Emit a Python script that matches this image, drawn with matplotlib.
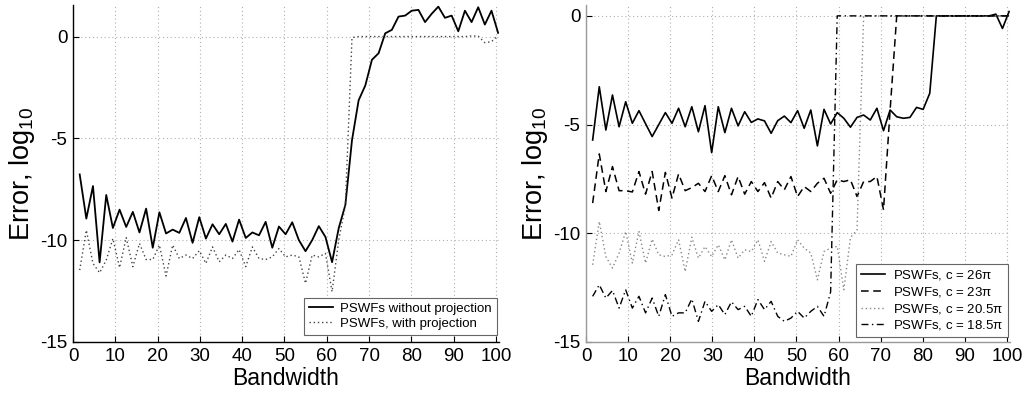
import matplotlib
matplotlib.use("Agg")
import matplotlib.pyplot as plt

plt.rcParams['font.family'] = ['Liberation Sans', 'DejaVu Sans']
plt.rcParams['mathtext.default'] = 'regular'
plt.rcParams['axes.unicode_minus'] = False

# Bandwidth values (k * pi / 2, k = 1..64)
bandwidth = [1.57, 3.14, 4.71, 6.28, 7.85, 9.42, 11.00, 12.57, 14.14, 15.71,
             17.28, 18.85, 20.42, 21.99, 23.56, 25.13, 26.70, 28.27, 29.85, 31.42,
             32.99, 34.56, 36.13, 37.70, 39.27, 40.84, 42.41, 43.98, 45.55, 47.12,
             48.69, 50.27, 51.84, 53.41, 54.98, 56.55, 58.12, 59.69, 61.26, 62.83,
             64.40, 65.97, 67.54, 69.12, 70.69, 72.26, 73.83, 75.40, 76.97, 78.54,
             80.11, 81.68, 83.25, 84.82, 86.39, 87.96, 89.54, 91.11, 92.68, 94.25,
             95.82, 97.39, 98.96, 100.53]

# Left panel
without_projection = [-6.77, -8.94, -7.34, -11.09, -7.78, -9.40, -8.50, -9.35, -8.61, -9.62,
                      -8.45, -10.37, -8.63, -9.67, -9.48, -9.64, -8.91, -10.13, -8.87, -9.92,
                      -9.22, -9.71, -9.20, -10.07, -8.99, -9.89, -9.62, -9.76, -9.10, -10.37,
                      -9.33, -9.71, -9.12, -10.00, -10.54, -10.00, -9.31, -9.84, -11.08, -9.41,
                      -8.27, -5.09, -3.13, -2.40, -1.14, -0.82, 0.16, 0.33, 0.98, 1.03,
                      1.27, 1.31, 0.71, 1.12, 1.47, 0.92, 1.03, 0.26, 1.27, 0.71,
                      1.44, 0.59, 1.27, 0.18]
with_projection = [-11.47, -9.51, -11.14, -11.60, -10.98, -9.92, -11.35, -9.87, -11.30, -10.16,
                   -10.95, -10.95, -10.24, -11.76, -10.24, -10.90, -10.73, -10.90, -10.52, -11.14,
                   -10.33, -11.06, -10.73, -10.90, -10.46, -11.30, -10.33, -10.90, -10.95, -10.82,
                   -10.41, -10.82, -10.73, -10.82, -12.12, -10.73, -10.82, -10.65, -12.53, -10.00,
                   -8.30, -0.05, 0, 0, 0, 0, 0, 0, 0, 0,
                   0, 0, 0, 0, 0, 0, 0, 0, 0, 0.03,
                   0.02, -0.30, -0.25, 0.05]

# Right panel
c26 = [-5.71, -3.26, -5.25, -3.64, -5.10, -3.95, -4.94, -4.36, -4.96, -5.55,
       -5.00, -4.45, -4.94, -4.25, -5.10, -4.18, -5.33, -4.13, -6.29, -4.18,
       -5.37, -4.25, -5.06, -4.41, -4.90, -4.74, -4.83, -5.40, -4.82, -4.61,
       -4.91, -4.36, -5.17, -4.33, -5.98, -4.30, -4.97, -4.45, -4.71, -5.12,
       -4.67, -4.56, -4.79, -4.25, -5.28, -4.33, -4.64, -4.71, -4.67, -4.21,
       -4.30, -3.56, 0, 0, 0, 0, 0, 0, 0, 0,
       0, 0.08, -0.58, 0.20]
c23 = [-8.61, -6.35, -8.08, -6.93, -8.04, -8.04, -8.10, -7.16, -8.20, -7.16,
       -8.95, -7.20, -8.38, -7.27, -8.04, -7.90, -7.70, -8.08, -7.35, -8.08,
       -7.35, -8.23, -7.39, -8.20, -7.62, -8.08, -7.67, -8.38, -7.62, -8.00,
       -7.39, -8.31, -7.85, -8.08, -7.70, -7.47, -8.16, -7.54, -7.62, -7.54,
       -8.31, -7.62, -7.62, -7.39, -8.92, -4.33, 0, 0, 0, 0,
       0, 0, 0, 0, 0, 0, 0, 0, 0, 0,
       0, 0, 0, 0]
c205 = [-11.45, -9.46, -11.07, -11.60, -10.91, -9.92, -11.37, -9.92, -11.37, -10.27,
        -10.99, -11.07, -10.99, -10.30, -11.76, -10.18, -11.14, -10.61, -11.07, -10.53,
        -11.22, -10.30, -11.14, -10.76, -10.84, -10.30, -11.29, -10.38, -10.91, -10.99,
        -11.06, -10.30, -10.68, -10.91, -12.14, -10.84, -10.68, -10.60, -12.60, -10.20,
        -9.84, 0, 0, 0, 0, 0, 0, 0, 0, 0,
        0, 0, 0, 0, 0, 0, 0, 0, 0, 0,
        0, 0, 0, 0]
c185 = [-12.90, -12.37, -12.98, -12.63, -13.44, -12.60, -13.44, -12.90, -13.66, -12.98,
        -13.82, -12.82, -13.82, -13.66, -13.66, -13.02, -14.05, -13.13, -13.59, -13.28,
        -13.74, -13.15, -13.51, -13.36, -13.82, -13.05, -13.51, -13.13, -13.82, -14.05,
        -13.90, -13.59, -13.90, -13.59, -13.36, -13.82, -12.70, 0, 0, 0,
        0, 0, 0, 0, 0, 0, 0, 0, 0, 0,
        0, 0, 0, 0, 0, 0, 0, 0, 0, 0,
        0, 0, 0, 0]

xticks = [0, 10, 20, 30, 40, 50, 60, 70, 80, 90, 100]
yticks = [-15, -10, -5, 0]

fig = plt.figure(figsize=(10.26, 4.0), dpi=100)
axL = fig.add_axes([0.0712, 0.145, 0.4150, 0.8425])
axR = fig.add_axes([0.5712, 0.145, 0.4130, 0.8425])

def style(ax, spine_color, ytop):
    ax.set_xlim(0, 100.7)
    ax.set_ylim(-15, ytop)
    ax.set_xticks(xticks)
    ax.set_yticks(yticks)
    for s in ('top', 'right'):
        ax.spines[s].set_visible(False)
    for s in ('left', 'bottom'):
        ax.spines[s].set_color(spine_color)
        ax.spines[s].set_linewidth(1.0)
    ax.tick_params(direction='in', length=4, width=0.8, labelsize=13.5, pad=4)
    ax.grid(True, color='#b0b0b0', linestyle=(0, (1, 2.5)), linewidth=0.8)
    ax.set_axisbelow(True)
    ax.set_xlabel('Bandwidth', fontsize=16.5, labelpad=2)
    ax.set_ylabel('Error, log$_{10}$', fontsize=19.5, labelpad=2)

style(axL, 'black', 1.55)
style(axR, '#999999', 0.5)

axL.plot(bandwidth, without_projection, color='black', lw=1.3, label='PSWFs without projection')
axL.plot(bandwidth, with_projection, color='#444444', lw=1.0, linestyle=(0, (1, 2)),
         label='PSWFs, with projection')
legL = axL.legend(loc='lower right', bbox_to_anchor=(0.995, 0.022), borderaxespad=0,
                  fontsize=9.5, frameon=True, fancybox=False, framealpha=1,
                  edgecolor='#666666', handlelength=1.8, handletextpad=0.6,
                  labelspacing=0.2, borderpad=0.35)
legL.get_frame().set_linewidth(0.8)

axR.plot(bandwidth, c26, color='black', lw=1.2, label=r'PSWFs, c = 26$\pi$')
axR.plot(bandwidth, c23, color='black', lw=1.1, linestyle=(0, (5, 3)), label=r'PSWFs, c = 23$\pi$')
axR.plot(bandwidth, c205, color='#888888', lw=1.0, linestyle=(0, (1, 2)), label=r'PSWFs, c = 20.5$\pi$')
axR.plot(bandwidth, c185, color='black', lw=1.0, linestyle=(0, (5, 2.5, 1, 2.5)),
         label=r'PSWFs, c = 18.5$\pi$')
legR = axR.legend(loc='lower right', bbox_to_anchor=(0.995, 0.015), borderaxespad=0,
                  fontsize=9.5, frameon=True, fancybox=False, framealpha=1,
                  edgecolor='#666666', handlelength=1.8, handletextpad=0.6,
                  labelspacing=0.2, borderpad=0.35)
legR.get_frame().set_linewidth(0.8)

fig.savefig('out.png', dpi=100)
